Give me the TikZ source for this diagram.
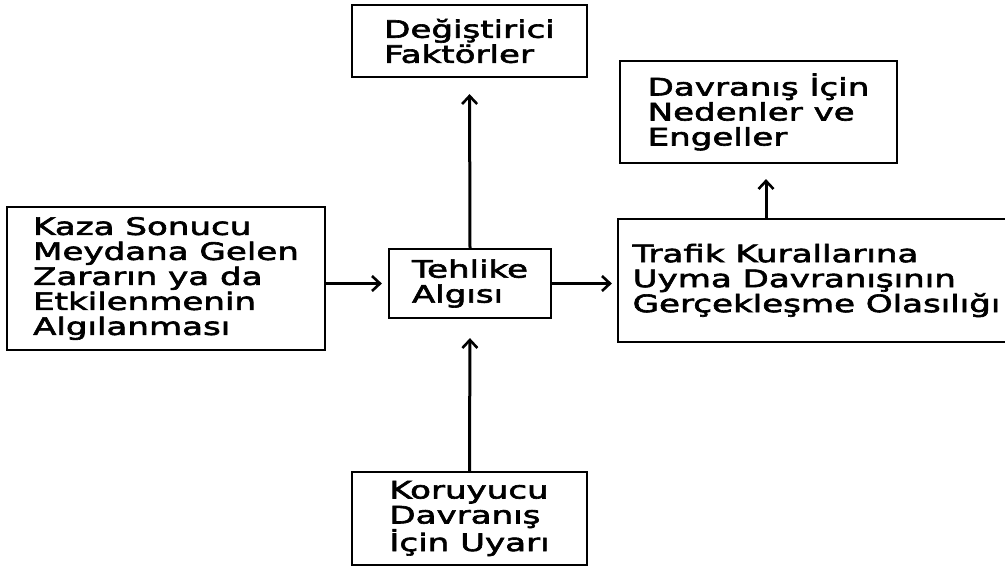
\documentclass[tikz,border=0pt]{standalone}
\usepackage{fontspec}
\setmainfont{DejaVu Sans}[FakeStretch=1.42, FakeBold=2.6]
\usetikzlibrary{arrows.meta}
\begin{document}
\begin{tikzpicture}[x=1pt,y=-1pt,
  box/.style={draw, line width=2.2pt, align=left, inner sep=0pt,
    font=\fontsize{24}{25}\selectfont},
  arr/.style={line width=3pt, -{Straight Barb[length=8pt,width=15pt,line width=2.6pt]}}]
\useasboundingbox (0,0) rectangle (1005,568);

\node[box, minimum width=235pt, minimum height=72pt] (deg) at (469.5,41)
  {Değiştirici\\Faktörler};
\node[box, minimum width=277pt, minimum height=102pt] (dav) at (758.5,112)
  {Davranış İçin\\Nedenler ve\\Engeller};
\node[box, minimum width=318pt, minimum height=143pt] (kaza) at (166,278.5)
  {Kaza Sonucu\\Meydana Gelen\\Zararın ya da\\Etkilenmenin\\Algılanması};
\node[box, minimum width=162pt, minimum height=69pt] (teh) at (470,283.5)
  {Tehlike\\Algısı};
\node[box, minimum width=397pt, minimum height=123pt] (traf) at (816.5,280.5)
  {Trafik Kurallarına\\Uyma Davranışının\\Gerçekleşme Olasılığı};
\node[box, minimum width=235pt, minimum height=93pt] (kor) at (469.5,518.5)
  {Koruyucu\\Davranış\\İçin Uyarı};

\coordinate (ax) at (766,0);
\draw[arr, shorten >=16pt] (teh.north) -- (deg.south);
\draw[arr, shorten >=6pt] (kaza.east |- teh.west) -- (teh.west);
\draw[arr, shorten >=5pt] (teh.east) -- (teh.east -| traf.west);
\draw[arr, shorten >=19pt] (kor.north) -- (teh.south);
\draw[arr, shorten >=15pt] (traf.north -| ax) -- (dav.south -| ax);
\end{tikzpicture}
\end{document}
